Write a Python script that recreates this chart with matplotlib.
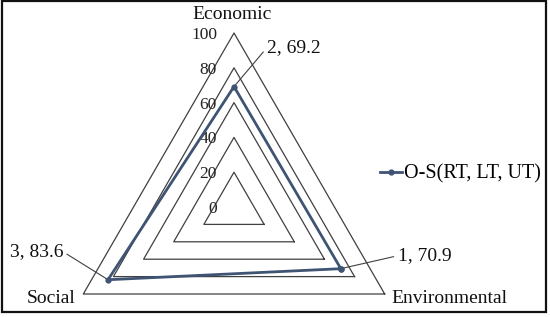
import numpy as np
import matplotlib.pyplot as plt
from matplotlib.patches import Rectangle

categories = ["Environmental", "Economic", "Social"]
values = [70.9, 69.2, 83.6]
point_labels = ["1, 70.9", "2, 69.2", "3, 83.6"]
series_name = "O-S(RT, LT, UT)"
ticks = [0, 20, 40, 60, 80, 100]
angles_deg = [-30, 90, 210]

plt.rcParams['font.family'] = ['Liberation Serif', 'DejaVu Serif']

W, H, DPI = 550, 317, 100
fig = plt.figure(figsize=(W / DPI, H / DPI), dpi=DPI)
ax = fig.add_axes([0, 0, 1, 1])
ax.set_axis_off()

# pixel geometry: center at (234, 207) from top, 100 units = 174 px
cx, cy, s = 234, 207, 1.74
ax.set_xlim(-cx / s, (W - cx) / s)
ax.set_ylim(-(H - cy) / s, cy / s)

ang = np.deg2rad(angles_deg)
ux, uy = np.cos(ang), np.sin(ang)

def closed(a):
    return np.append(a, a[0])

grid_color = '#404040'
for t in ticks[1:]:
    ax.plot(closed(ux * t), closed(uy * t), color=grid_color, lw=0.9, zorder=1)

for t in ticks:
    ax.annotate(str(t), (0, t), xytext=(-17, -2), textcoords='offset pixels',
                ha='right', va='center', fontsize=12.5, color='#222222', zorder=3)

vals = np.array(values)
line_color = '#3F5373'
ax.plot(closed(ux * vals), closed(uy * vals), color=line_color, lw=2.0,
        marker='o', markersize=3.5, zorder=4, label=series_name)

# category labels
r = ticks[-1]
cat_off = {"Economic": (-2, 10, 'center', 'bottom'),
           "Environmental": (7, -9, 'left', 'baseline'),
           "Social": (-8, -9, 'right', 'baseline')}
for c, x, y in zip(categories, ux * r, uy * r):
    dx, dy, ha, va = cat_off[c]
    ax.annotate(c, (x, y), xytext=(dx, dy), textcoords='offset pixels',
                ha=ha, va=va, fontsize=14, color='#111111')

# data labels with leader lines
lab_off = {"Environmental": (57, 13, 'left', (0, 0.5)),
           "Economic": (33, 39, 'left', (0, 0.5)),
           "Social": (-45, 28, 'right', (1, 0.5))}
for c, x, y, lab in zip(categories, ux * vals, uy * vals, point_labels):
    dx, dy, ha, rp = lab_off[c]
    ax.annotate(lab, (x, y), xytext=(dx, dy), textcoords='offset pixels',
                ha=ha, va='center', fontsize=14, color='#111111',
                arrowprops=dict(arrowstyle='-', color='#404040', lw=0.8,
                                relpos=rp, shrinkA=1, shrinkB=0))

leg = ax.legend(loc='center left', bbox_to_anchor=(380 / W, 1 - 174 / H),
                frameon=False, fontsize=14.5, handlelength=1.1,
                handletextpad=0.1, borderpad=0, borderaxespad=0)

# figure border
fig.patches.append(Rectangle((2 / W, 1 - 312 / H), 544 / W, 311 / H,
                             transform=fig.transFigure, fill=False,
                             edgecolor='#111111', lw=1.6))

fig.savefig('out.png', dpi=DPI)
